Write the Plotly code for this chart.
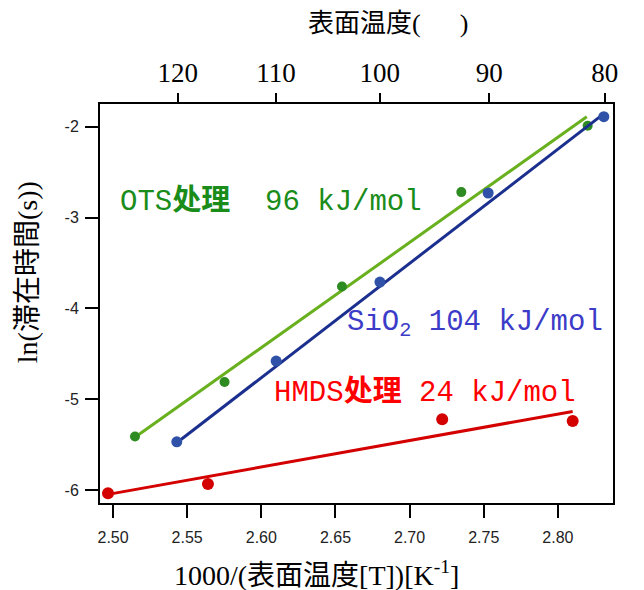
import plotly.graph_objects as go

# ---- data ----
ots_x = [2.5148, 2.5752, 2.6544, 2.7349, 2.8201]
ots_y = [-5.41, -4.81, -3.76, -2.72, -1.99]
ots_fit_x = [2.5148, 2.8195]
ots_fit_y = [-5.42, -1.89]

sio2_x = [2.543, 2.610, 2.680, 2.753, 2.831]
sio2_y = [-5.47, -4.58, -3.71, -2.73, -1.89]
sio2_fit_x = [2.543, 2.830]
sio2_fit_y = [-5.48, -1.87]

hmds_x = [2.4966, 2.564, 2.722, 2.810]
hmds_y = [-6.035, -5.934, -5.22, -5.24]
hmds_fit_x = [2.4966, 2.810]
hmds_fit_y = [-6.048, -5.135]

bottom_ticks = [2.50, 2.55, 2.60, 2.65, 2.70, 2.75, 2.80]
y_ticks = [-2, -3, -4, -5, -6]
top_temps = [120, 110, 100, 90, 80]

labels = [
    ("OTS<b>处理</b>\u00a0\u00a096\u00a0kJ/mol", 2.5034, -2.82, "#1a8c1a"),
    ("SiO<sub>2</sub>\u00a0104\u00a0kJ/mol", 2.6564, -4.17, "#3c3cc8"),
    ("HMDS<b>处理</b>\u00a024\u00a0kJ/mol", 2.607, -4.93, "#ff0000"),
]

top_title = "表面温度(\u00a0\u00a0\u00a0\u00a0\u00a0\u00a0)"
bottom_title = "1000/(表面温度[T])[K<sup>-1</sup>]"
y_title = "ln(滞在時間(s))"

GREEN_L, GREEN_M = "#68b01e", "#2e8b22"
BLUE_L, BLUE_M = "#1b2f8e", "#2f52a8"
RED = "#d40000"

xr = [2.4912, 2.8372]
yr = [-6.143, -1.75]

fig = go.Figure()
fig.add_trace(go.Scatter(x=ots_fit_x, y=ots_fit_y, mode="lines",
                         line=dict(color=GREEN_L, width=3), showlegend=False))
fig.add_trace(go.Scatter(x=ots_x, y=ots_y, mode="markers",
                         marker=dict(color=GREEN_M, size=10), showlegend=False))
fig.add_trace(go.Scatter(x=sio2_fit_x, y=sio2_fit_y, mode="lines",
                         line=dict(color=BLUE_L, width=3), showlegend=False))
fig.add_trace(go.Scatter(x=sio2_x, y=sio2_y, mode="markers",
                         marker=dict(color=BLUE_M, size=11), showlegend=False))
fig.add_trace(go.Scatter(x=hmds_fit_x, y=hmds_fit_y, mode="lines",
                         line=dict(color=RED, width=3), showlegend=False))
fig.add_trace(go.Scatter(x=hmds_x, y=hmds_y, mode="markers",
                         marker=dict(color=RED, size=12), showlegend=False))
# invisible trace to activate the top axis
fig.add_trace(go.Scatter(x=xr, y=yr, xaxis="x2", mode="markers",
                         marker=dict(opacity=0), showlegend=False, hoverinfo="skip"))

serif = "Liberation Serif, Noto Sans CJK JP, serif"
sans = "Liberation Sans, Arial, sans-serif"
mono = "Liberation Mono, Noto Sans CJK JP, monospace"

for text, x, y, c in labels:
    fig.add_annotation(x=x, y=y, xref="x", yref="y", text=text, showarrow=False,
                       xanchor="left", yanchor="middle",
                       font=dict(family=mono, size=29, color=c))

# axis titles as paper-positioned text
fig.add_annotation(x=0.4016, y=1.203, xref="paper", yref="paper", text=top_title,
                   showarrow=False, xanchor="left", yanchor="middle",
                   font=dict(family=serif, size=26, color="black"))
fig.add_annotation(x=0.1404, y=-0.176, xref="paper", yref="paper", text=bottom_title,
                   showarrow=False, xanchor="left", yanchor="middle",
                   font=dict(family=serif, size=28, color="black"))
fig.add_annotation(x=-0.140, y=0.579, xref="paper", yref="paper", text=y_title,
                   showarrow=False, xanchor="center", yanchor="middle", textangle=-90,
                   font=dict(family=serif, size=28, color="black"))

fig.update_layout(
    width=644, height=590,
    margin=dict(l=92, r=39, t=96, b=95),
    paper_bgcolor="white", plot_bgcolor="white",
    xaxis=dict(range=xr, tickvals=bottom_ticks,
               ticktext=[f"{v:.2f}" for v in bottom_ticks],
               ticks="outside", ticklen=13, tickwidth=2, tickcolor="black",
               showline=True, linewidth=2, linecolor="black", mirror=True,
               showgrid=False, zeroline=False, automargin=False,
               ticklabelstandoff=6,
               tickfont=dict(family=sans, size=16, color="#222")),
    xaxis2=dict(range=xr, overlaying="x", side="top",
                tickvals=[1000 / (t + 273.15) for t in top_temps],
                ticktext=[str(t) for t in top_temps],
                ticks="outside", ticklen=10, tickwidth=2, tickcolor="black",
                showgrid=False, zeroline=False, showline=False, automargin=False,
                tickfont=dict(family=serif, size=27, color="black")),
    yaxis=dict(range=yr, tickvals=y_ticks, ticktext=[str(v) for v in y_ticks],
               ticks="outside", ticklen=13, tickwidth=2, tickcolor="black",
               showline=True, linewidth=2, linecolor="black", mirror=True,
               showgrid=False, zeroline=False, automargin=False,
               ticklabelstandoff=3,
               tickfont=dict(family=sans, size=16, color="#222")),
)

fig.write_html("out.html")
